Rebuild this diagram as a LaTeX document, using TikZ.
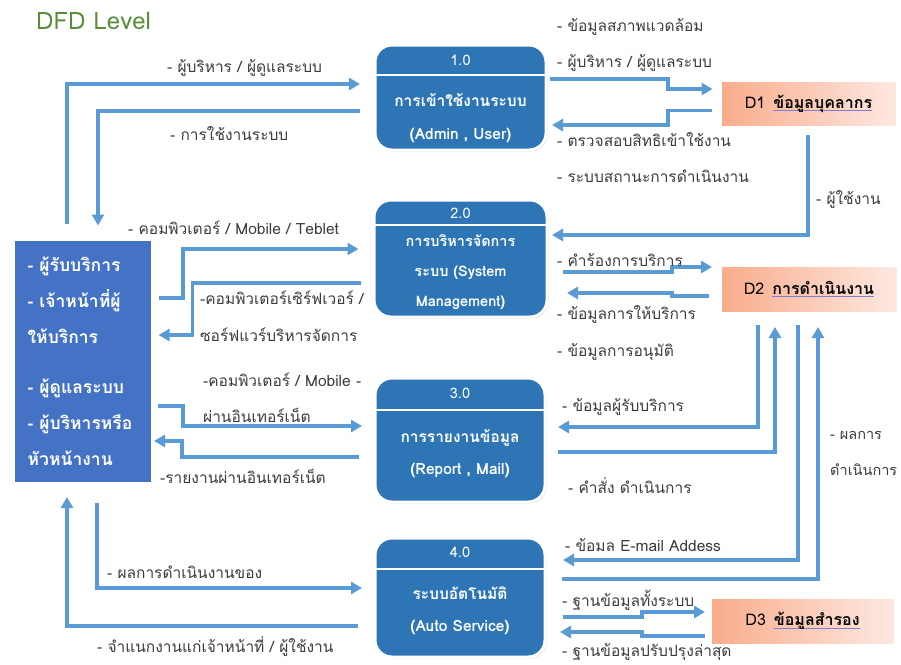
\documentclass[tikz,border=0pt]{standalone}
\usepackage{fontspec}
\setmainfont[Script=Thai]{Loma}
\usetikzlibrary{arrows.meta,positioning,shadows}

\definecolor{flowblue}{RGB}{91,155,213}
\definecolor{procblue}{RGB}{46,117,182}
\definecolor{entblue}{RGB}{68,114,196}
\definecolor{storeorange}{RGB}{249,172,138}
\definecolor{storelight}{RGB}{253,233,226}
\definecolor{titlegreen}{RGB}{90,140,58}
\definecolor{labelgray}{RGB}{60,60,60}
\definecolor{ulblue}{RGB}{125,125,210}

\newcommand{\dsul}[1]{\sbox0{#1}\rlap{\color{ulblue}\rule[-3pt]{\wd0}{1.1pt}}\usebox0}

\begin{document}
\begin{tikzpicture}[x=1pt, y=-1pt,
	flow/.style={draw=flowblue, line width=3.2pt, -{Triangle[length=11pt,width=12pt]}},
	process/.style={draw=white, line width=3pt, fill=procblue, rounded corners=17pt,
		drop shadow={opacity=0.3, shadow xshift=1.5pt, shadow yshift=-1.5pt}},
	entity/.style={draw=white, line width=3pt, fill=entblue,
		drop shadow={opacity=0.3, shadow xshift=1.5pt, shadow yshift=-1.5pt}},
	store/.style={draw=white, line width=3pt, left color=storeorange, right color=storelight,
		drop shadow={opacity=0.3, shadow xshift=1.5pt, shadow yshift=-1.5pt},
		font=\fontsize{16}{18}\selectfont},
	pnum/.style={text=white, inner sep=0pt, font=\fontsize{14.5}{16}\selectfont},
	ptext/.style={text=white, inner sep=0pt, align=center},
	lbl/.style={anchor=west, inner sep=0pt, text=labelgray, font=\fontsize{15.5}{17}\selectfont}]
	\useasboundingbox (0,0) rectangle (901,664);

	\node[anchor=west, inner sep=0pt, text=titlegreen, font=\fontsize{24}{26}\selectfont] (title) at (36,21) {DFD Level};

	% processes
	\node[process, minimum width=171pt, minimum height=105pt] (p1) at (460.5,97.5) {};
	\node[process, minimum width=173pt, minimum height=117pt] (p2) at (460.5,258.5) {};
	\node[process, minimum width=170pt, minimum height=124pt] (p3) at (460,440) {};
	\node[process, minimum width=170pt, minimum height=119pt] (p4) at (460,597.5) {};

	\draw[white, line width=2.5pt] ([yshift=-31.5pt]p1.north west) -- ([yshift=-31.5pt]p1.north east);
	\draw[white, line width=2.5pt] ([yshift=-26.5pt]p2.north west) -- ([yshift=-26.5pt]p2.north east);
	\draw[white, line width=2.5pt] ([yshift=-33.5pt]p3.north west) -- ([yshift=-33.5pt]p3.north east);
	\draw[white, line width=2.5pt] ([yshift=-32.5pt]p4.north west) -- ([yshift=-32.5pt]p4.north east);

	\node[pnum] (p1n) at ([yshift=-16.5pt]p1.north) {1.0};
	\node[pnum] (p2n) at ([yshift=-14.5pt]p2.north) {2.0};
	\node[pnum] (p3n) at ([yshift=-16.5pt]p3.north) {3.0};
	\node[pnum] (p4n) at ([yshift=-15.5pt]p4.north) {4.0};

	\node[ptext, font=\fontsize{15.5}{33}\selectfont\bfseries] (p1t) at ([yshift=-75pt]p1.north) {การเข้าใช้งานระบบ\\(Admin , User)};
	\node[ptext, font=\fontsize{14.5}{30}\selectfont\bfseries] (p2t) at ([yshift=-73.5pt]p2.north) {การบริหารจัดการ\\ระบบ (System\\Management)};
	\node[ptext, font=\fontsize{15.5}{32}\selectfont\bfseries] (p3t) at ([yshift=-77.5pt]p3.north) {การรายงานข้อมูล\\(Report , Mail)};
	\node[ptext, font=\fontsize{15.5}{32}\selectfont\bfseries] (p4t) at ([yshift=-74.5pt]p4.north) {ระบบอัตโนมัติ\\(Auto Service)};

	% external entity
	\node[entity, minimum width=139pt, minimum height=244pt] (ent) at (82.5,361) {};
	\node[anchor=west, inner sep=0pt, text=white, align=left, font=\fontsize{17.5}{36}\selectfont\bfseries] (entt) at ([xshift=16pt]ent.west)
		{- ผู้รับบริการ\\- เจ้าหน้าที่ผู้\\ให้บริการ\\[14pt]- ผู้ดูแลระบบ\\- ผู้บริหารหรือ\\หัวหน้างาน};

	% data stores
	\node[store, minimum width=177pt, minimum height=47pt] (d1) at (808.5,103.5) {D1\hspace{0.5em}\dsul{\textbf{ข้อมูลบุคลากร}}};
	\node[store, minimum width=178pt, minimum height=48pt] (d2) at (809,289) {D2\hspace{0.5em}\dsul{\textbf{การดำเนินงาน}}};
	\node[store, minimum width=185pt, minimum height=48pt] (d3) at (802.5,621) {D3\hspace{0.5em}\dsul{\textbf{ข้อมูลสำรอง}}};

	% Draw flows, left side
	\draw[flow, shorten >=13.5pt] ([xshift=-15.5pt,yshift=14pt]ent.north) |- ([yshift=13.5pt]p1.west);
	\draw[flow, shorten <=14pt] ([yshift=-13.5pt]p1.west) -| ([xshift=15.5pt,yshift=12pt]ent.north);
	\draw[flow, shorten >=14pt] ([xshift=5pt,yshift=63pt]ent.east) -- ++(24.5,0) |- ([yshift=9.5pt]p2.west);
	\draw[flow, shorten <=12pt, shorten >=5pt] ([yshift=-24.5pt]p2.west) -- ++(-180,0) |- ([yshift=26pt]ent.east);
	\draw[flow, shorten >=11.5pt] ([xshift=4pt,yshift=-45pt]ent.east) -- ++(25.5,0) |- ([yshift=14pt]p3.west);
	\draw[flow, shorten <=15pt, shorten >=0.5pt] ([yshift=-17pt]p3.west) -- ++(-191.5,0) |- ([yshift=-80pt]ent.east);
	\draw[flow, shorten >=11.5pt] ([xshift=14.5pt,yshift=-18.5pt]ent.south) |- ([yshift=9.5pt]p4.west);
	\draw[flow, shorten <=15.5pt, shorten >=12.5pt] ([yshift=-28.5pt]p4.west) -| ([xshift=-15.5pt]ent.south);

	% Draw flows, right side
	\draw[flow, shorten <=2.5pt, shorten >=6pt] ([yshift=18.5pt]p1.east) -- ++(120.5,0) |- ([yshift=14.5pt]d1.west);
	\draw[flow, shorten <=6.5pt, shorten >=4.5pt] ([yshift=-7pt]d1.west) -- ++(-50.5,0) |- ([yshift=-27.5pt]p1.east);
	\draw[flow, shorten >=3.5pt] ([xshift=-0.5pt,yshift=-6.5pt]d1.south) |- ([yshift=23.5pt]p2.east);
	\draw[flow, shorten <=14.5pt, shorten >=6.5pt] ([yshift=-13.5pt]p2.east) -- ++(123.5,0) |- ([yshift=22pt]d2.west);
	\draw[flow, shorten <=10pt, shorten >=18.5pt] ([yshift=-7pt]d2.west) -- ++(-46.5,0) |- ([yshift=-34.5pt]p2.east);
	\draw[flow, shorten >=11.5pt] ([xshift=-51pt,yshift=-10.5pt]d2.south) |- ([yshift=13pt]p3.east);
	\draw[flow, shorten <=11.5pt] ([yshift=-12pt]p3.east) -| ([xshift=-34pt,yshift=-12.5pt]d2.south);
	\draw[flow, shorten >=16.5pt] ([xshift=-11pt,yshift=-10.5pt]d2.south) |- ([yshift=37.5pt]p4.east);
	\draw[flow, shorten <=15.5pt] ([yshift=18.5pt]p4.east) -| ([xshift=9pt,yshift=-12.5pt]d2.south);
	\draw[flow, shorten <=16.5pt, shorten >=3.5pt] ([yshift=-19.5pt]p4.east) -- ++(95.5,0) |- ([yshift=9pt]d3.west);
	\draw[flow, shorten <=3.5pt, shorten >=13.5pt] ([yshift=-15pt]d3.west) -- ++(-66.5,0) |- ([yshift=-34.5pt]p4.east);

	% flow labels
	\node[lbl] (l1) at (167,68) {- ผู้บริหาร / ผู้ดูแลระบบ};
	\node[lbl] (l2) at (170,134) {- การใช้งานระบบ};
	\node[lbl] (l3) at (128,228) {- คอมพิวเตอร์ / Mobile / Teblet};
	\node[lbl] (l4) at (200,298) {-คอมพิวเตอร์เซิร์ฟเวอร์ /};
	\node[lbl] (l5) at (200,335) {ซอร์ฟแวร์บริหารจัดการ};
	\node[lbl] (l6) at (203,380) {-คอมพิวเตอร์ / Mobile -};
	\node[lbl] (l7) at (203,415) {ผ่านอินเทอร์เน็ต};
	\node[lbl] (l8) at (160,476) {-รายงานผ่านอินเทอร์เน็ต};
	\node[lbl] (l9) at (107,572) {- ผลการดำเนินงานของ};
	\node[lbl] (l10) at (97,647) {- จำแนกงานแก่เจ้าหน้าที่ / ผู้ใช้งาน};

	\node[lbl] (r1) at (557,27) {- ข้อมูลสภาพแวดล้อม};
	\node[lbl] (r2) at (557,63) {- ผู้บริหาร / ผู้ดูแลระบบ};
	\node[lbl] (r3) at (557,140) {- ตรวจสอบสิทธิเข้าใช้งาน};
	\node[lbl] (r4) at (557,176) {- ระบบสถานะการดำเนินงาน};
	\node[lbl] (r5) at (816,200) {- ผู้ใช้งาน};
	\node[lbl] (r6) at (557,260) {- คำร้องการบริการ};
	\node[lbl] (r7) at (557,315) {- ข้อมูลการให้บริการ};
	\node[lbl] (r8) at (557,352) {- ข้อมูลการอนุมัติ};
	\node[lbl] (r9) at (562,407) {- ข้อมูลผู้รับบริการ};
	\node[lbl] (r10) at (568,486) {- คำสั่ง ดำเนินการ};
	\node[lbl, font=\fontsize{14.5}{16}\selectfont] (r11) at (830,435) {- ผลการ};
	\node[lbl, font=\fontsize{14.5}{16}\selectfont] (r12) at (830,470) {ดำเนินการ};
	\node[lbl] (r13) at (565,545) {- ข้อมล E-mail Addess};
	\node[lbl] (r14) at (562,600) {- ฐานข้อมูลทั้งระบบ};
	\node[lbl] (r15) at (562,652) {- ฐานข้อมูลปรับปรุงล่าสุด};
\end{tikzpicture}
\end{document}
